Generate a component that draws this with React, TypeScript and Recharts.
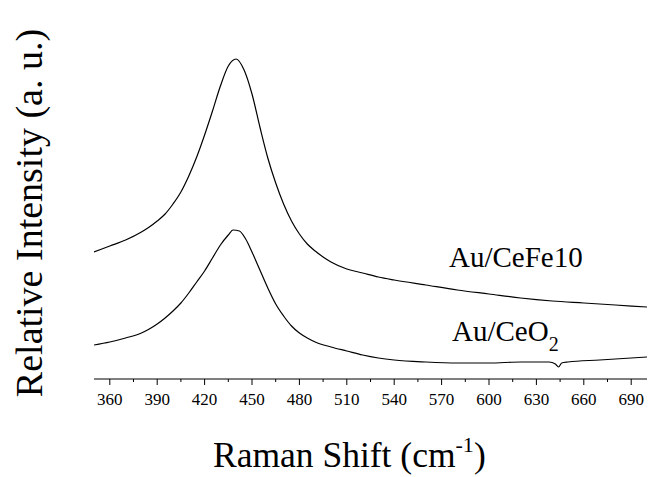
import React from "react";
import { LineChart, Line, XAxis, YAxis, Customized } from "recharts";

// Raman shift positions (cm-1) and relative intensities (arbitrary units)
const ceFe10Shift = [350, 360, 370, 380, 385, 390, 395, 400, 405, 410, 415, 420, 425, 430, 435, 440, 445, 450, 455, 460, 465, 470, 475, 480, 485, 490, 495, 500, 510, 520, 530, 540, 560, 580, 600, 620, 640, 660, 680, 700];
const ceFe10Intensity = [127, 133, 139, 147, 152, 158, 165, 175, 187, 203, 222, 244, 268, 293, 313, 320, 309, 285, 252, 221, 196, 175, 158, 145, 135, 128, 122, 117, 110, 106, 102, 99, 94, 89, 85, 81, 78, 76, 74, 72];

const ceO2Shift = [350, 360, 370, 380, 385, 390, 395, 400, 405, 410, 415, 420, 425, 430, 435, 438, 442, 446, 450, 455, 460, 465, 470, 475, 480, 485, 490, 500, 510, 520, 530, 540, 560, 580, 600, 620, 638, 642, 644, 646, 650, 670, 690, 700];
const ceO2Intensity = [34, 37, 41, 46, 50, 55, 61, 68, 76, 86, 97, 108, 121, 134, 144, 149, 148, 140, 127, 109, 91, 75, 63, 53, 46, 41, 37, 32, 28, 24, 21, 19, 17, 16, 16, 17, 17, 15, 12, 16, 17, 19, 21, 22];

const xTicks = [360, 375, 390, 405, 420, 435, 450, 465, 480, 495, 510, 525, 540, 555, 570, 585, 600, 615, 630, 645, 660, 675, 690];
const majorTicks = [360, 390, 420, 450, 480, 510, 540, 570, 600, 630, 660, 690];

const seriesNames = ["Au/CeFe10", "Au/CeO"];
const xTitle = "Raman Shift (cm";
const yTitle = "Relative Intensity (a. u.)";

const ceFe10Data = ceFe10Shift.map((s, i) => ({ shift: s, value: ceFe10Intensity[i] }));
const ceO2Data = ceO2Shift.map((s, i) => ({ shift: s, value: ceO2Intensity[i] }));

const FONT = '"Liberation Serif", "Times New Roman", serif';

const Tick = (props: any) => {
  const { x, y, payload } = props;
  const major = majorTicks.includes(payload.value);
  return (
    <g>
      <line x1={x} x2={x} y1={y} y2={y + (major ? 6 : 3)} stroke="#000" strokeWidth={1} />
      {major && (
        <text x={x} y={y + 26} textAnchor="middle" fontSize={17} fontFamily={FONT} fill="#000">
          {payload.value}
        </text>
      )}
    </g>
  );
};

const Annotations = () => (
  <g fontFamily={FONT} fill="#000">
    <text transform="translate(42,213) rotate(-90)" textAnchor="middle" fontSize={38}>
      {yTitle}
    </text>
    <text x={213} y={467} fontSize={35.5}>
      {xTitle}
      <tspan fontSize={22} dy={-15}>-1</tspan>
      <tspan fontSize={35.5} dy={15}>)</tspan>
    </text>
    <text x={449} y={267} fontSize={29}>
      {seriesNames[0]}
    </text>
    <text x={452} y={341} fontSize={29}>
      {seriesNames[1]}
      <tspan fontSize={20} dy={10}>2</tspan>
    </text>
  </g>
);

export default function App() {
  return (
    <div style={{ position: "absolute", left: 0, top: 0, background: "#fff" }}>
      <LineChart width={648} height={477} margin={{ top: 23, right: 1, left: 94, bottom: 68 }}>
        <XAxis
          dataKey="shift"
          type="number"
          domain={[350, 700]}
          ticks={xTicks}
          interval={0}
          allowDataOverflow
          height={30}
          tickSize={0}
          tickMargin={0}
          tickLine={false}
          tick={<Tick />}
          axisLine={{ stroke: "#000", strokeWidth: 1.2 }}
        />
        <YAxis
          type="number"
          domain={[0, 356]}
          width={0}
          tick={false}
          tickLine={false}
          axisLine={{ stroke: "#7a7a7a", strokeWidth: 1.5 }}
        />
        <Line
          data={ceFe10Data}
          dataKey="value"
          type="monotone"
          stroke="#000"
          strokeWidth={1.2}
          dot={false}
          isAnimationActive={false}
        />
        <Line
          data={ceO2Data}
          dataKey="value"
          type="monotone"
          stroke="#000"
          strokeWidth={1.2}
          dot={false}
          isAnimationActive={false}
        />
        <Customized component={Annotations} />
      </LineChart>
    </div>
  );
}
